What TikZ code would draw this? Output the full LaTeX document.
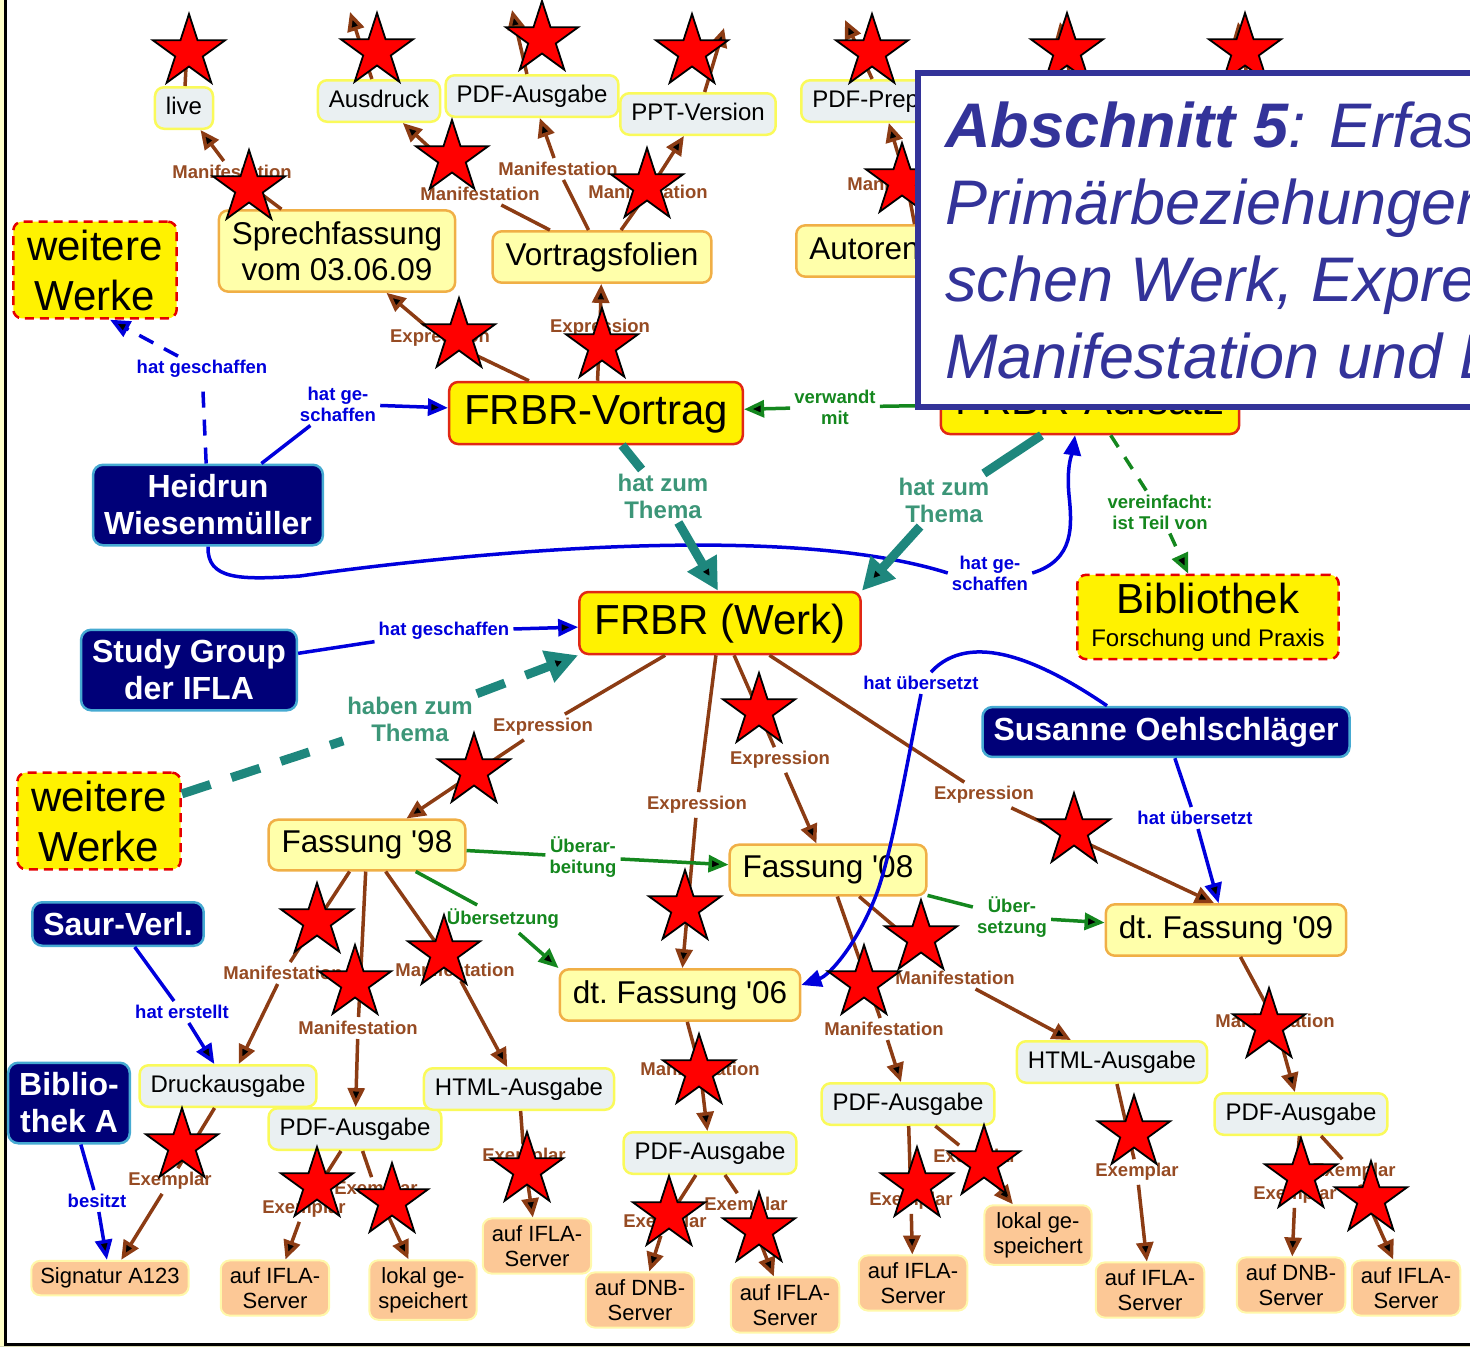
\documentclass[tikz,border=0pt]{standalone}
\usepackage{fontspec}
\setmainfont{Liberation Sans}
\setsansfont{Liberation Sans}
\usetikzlibrary{arrows.meta,shapes.geometric}
\definecolor{werkrand}{RGB}{225,40,20}
\definecolor{fassungfill}{RGB}{255,255,170}
\definecolor{fassungrand}{RGB}{240,175,70}
\definecolor{ausgabefill}{RGB}{234,240,242}
\definecolor{ausgaberand}{RGB}{250,250,90}
\definecolor{exemplarfill}{RGB}{252,200,150}
\definecolor{exemplarrand}{RGB}{255,248,170}
\definecolor{personfill}{RGB}{0,0,120}
\definecolor{personrand}{RGB}{70,170,210}
\definecolor{braun}{RGB}{140,60,20}
\definecolor{braunlab}{RGB}{150,75,35}
\definecolor{blau}{RGB}{0,0,220}
\definecolor{tuerkis}{RGB}{30,135,125}
\definecolor{tuerkislab}{RGB}{60,150,120}
\definecolor{gruen}{RGB}{20,135,30}
\definecolor{titelblau}{RGB}{51,51,153}
\definecolor{randgelb}{RGB}{255,255,200}
\newcommand{\apos}{\textquotesingle}

\begin{document}
\begin{tikzpicture}[x=1pt,y=-1pt,
	werk/.style={draw=werkrand,fill=yellow,line width=2.5pt,rounded corners=9pt,inner xsep=15pt,inner ysep=11pt,text height=31pt,text depth=9pt,font=\fontsize{42}{50}\selectfont},
	fassung/.style={draw=fassungrand,fill=fassungfill,line width=2.5pt,rounded corners=9pt,inner xsep=13pt,inner ysep=11pt,align=center,font=\fontsize{31.5}{36}\selectfont},
	ausgabe/.style={draw=ausgaberand,fill=ausgabefill,line width=2.5pt,rounded corners=9pt,inner xsep=11pt,inner ysep=9pt,text height=18pt,text depth=5.5pt,font=\fontsize{24}{28}\selectfont},
	exemplar/.style={draw=exemplarrand,fill=exemplarfill,line width=2pt,rounded corners=9pt,inner xsep=9pt,inner ysep=7pt,align=center,font=\fontsize{22}{25}\selectfont},
	person/.style={draw=personrand,fill=personfill,text=white,line width=2.5pt,rounded corners=10pt,inner xsep=11pt,inner ysep=10pt,align=center,font=\bfseries\fontsize{32}{37}\selectfont},
	andere/.style={draw=red!90!black,fill=yellow,line width=2.5pt,dash pattern=on 9pt off 6pt,rounded corners=9pt,inner xsep=14pt,inner ysep=8pt,align=center,font=\fontsize{42}{50}\selectfont},
	rel/.style={font=\bfseries\fontsize{18.5}{21}\selectfont,align=center,inner sep=4pt},
	manif/.style={rel,text=braunlab},
	blaulab/.style={rel,text=blau},
	gruenlab/.style={rel,text=gruen},
	themalab/.style={rel,text=tuerkislab,font=\bfseries\fontsize{24}{27}\selectfont},
	braun/.style={draw=braun,line width=3.5pt,-{Triangle[length=19pt,width=17pt]}},
	blau/.style={draw=blau,line width=3.5pt,-{Triangle[length=20pt,width=17pt]}},
	gruen/.style={draw=gruen,line width=3.5pt,-{Triangle[length=20pt,width=17pt]}},
	thema/.style={draw=tuerkis,line width=9pt,-{Triangle[length=32pt,width=32pt]}},
	stern/.style={star,star points=5,star point ratio=2.618,minimum size=76pt,inner sep=0pt,fill=red,draw=black,line width=1.8pt}]
	\useasboundingbox (0,0) rectangle (1470,1347);
	\clip (0,0) rectangle (1470,1347);
	\fill[randgelb] (0,0) rectangle (3.5,1347);
	\fill[randgelb!70!gray] (0,1345.5) rectangle (1470,1347);
	\draw[line width=3pt] (5,0) -- (5,1344) -- (1470,1344);

	\node[ausgabe] (live) at (184,108) {live};
	\node[ausgabe] (ausdruck) at (379,101) {Ausdruck};
	\node[ausgabe] (pdfa) at (532,96) {PDF-Ausgabe};
	\node[ausgabe] (ppt) at (698,114) {PPT-Version};
	\node[ausgabe,anchor=west] (pdfprep) at (800,101) {PDF-Preprint};
	\node[fassung] (sprech) at (337,251) {Sprechfassung\\vom 03.06.09};
	\node[fassung] (folien) at (602,257) {Vortragsfolien};
	\node[fassung,anchor=west] (autoren) at (795,251) {Autorenfassung};
	\node[werk] (vortrag) at (596,413) {FRBR-Vortrag};
	\node[werk] (aufsatz) at (1090,403) {FRBR-Aufsatz};
	\node[andere] (weitere1) at (95,270) {weitere\\Werke};
	\node[person] (heidrun) at (208,505) {Heidrun\\Wiesenmüller};
	\node[werk] (werk) at (720,623) {FRBR (Werk)};
	\node[andere] (bibl) at (1208,617) {Bibliothek\\[-17pt]{\fontsize{24}{28}\selectfont Forschung und Praxis}};
	\node[person] (study) at (189,670) {Study Group\\der IFLA};
	\node[person] (susanne) at (1166,732) {Susanne Oehlschläger};
	\node[andere] (weitere2) at (99,821) {weitere\\Werke};
	\node[fassung] (f98) at (367,845) {Fassung \apos98};
	\node[fassung] (f08) at (828,870) {Fassung \apos08};
	\node[fassung] (f06) at (680,995) {dt.\ Fassung \apos06};
	\node[fassung] (f09) at (1226,930) {dt.\ Fassung \apos09};
	\node[person] (saur) at (118,924) {Saur-Verl.};
	\node[person] (biba) at (69,1103) {Biblio-\\thek A};
	\node[ausgabe] (druck) at (228,1086) {Druckausgabe};
	\node[ausgabe] (pdf98) at (355,1129) {PDF-Ausgabe};
	\node[ausgabe] (html98) at (519,1089) {HTML-Ausgabe};
	\node[ausgabe] (pdf06) at (710,1153) {PDF-Ausgabe};
	\node[ausgabe] (pdf08) at (908,1104) {PDF-Ausgabe};
	\node[ausgabe] (html08) at (1112,1062) {HTML-Ausgabe};
	\node[ausgabe] (pdf09) at (1301,1114) {PDF-Ausgabe};
	\node[exemplar] (sig) at (110,1278) {Signatur A123};
	\node[exemplar] (ifla1) at (275,1288) {auf IFLA-\\Server};
	\node[exemplar] (lokal1) at (423,1290) {lokal ge-\\speichert};
	\node[exemplar] (ifla2) at (537,1246) {auf IFLA-\\Server};
	\node[exemplar] (dnb1) at (640,1300) {auf DNB-\\Server};
	\node[exemplar] (ifla3) at (785,1305) {auf IFLA-\\Server};
	\node[exemplar] (ifla4) at (913,1283) {auf IFLA-\\Server};
	\node[exemplar] (lokal2) at (1038,1235) {lokal ge-\\speichert};
	\node[exemplar] (ifla5) at (1150,1290) {auf IFLA-\\Server};
	\node[exemplar] (dnb2) at (1291,1285) {auf DNB-\\Server};
	\node[exemplar] (ifla6) at (1406,1288) {auf IFLA-\\Server};

	\node[manif] (m1) at (232,172) {Manifestation};
	\node[manif] (m2) at (480,194) {Manifestation};
	\node[manif] (m3) at (558,169) {Manifestation};
	\node[manif] (m4) at (648,192) {Manifestation};
	\node[manif] (m5) at (907,184) {Manifestation};
	\node[manif] (e1) at (440,338) {Expression};
	\node[manif] (e2) at (600,328) {Expression};
	\node[manif] (e3) at (543,727) {Expression};
	\node[manif] (e4) at (697,805) {Expression};
	\node[manif] (e5) at (780,760) {Expression};
	\node[manif] (e6) at (984,795) {Expression};
	\node[manif] (m6) at (283,973) {Manifestation};
	\node[manif] (m7) at (358,1028) {Manifestation};
	\node[manif] (m8) at (455,970) {Manifestation};
	\node[manif] (m9) at (700,1069) {Manifestation};
	\node[manif] (m10) at (884,1029) {Manifestation};
	\node[manif] (m11) at (955,978) {Manifestation};
	\node[manif] (m12) at (1275,1021) {Manifestation};
	\node[manif] (x1) at (170,1181) {Exemplar};
	\node[manif] (x2) at (304,1209) {Exemplar};
	\node[manif] (x3) at (376,1190) {Exemplar};
	\node[manif] (x4) at (524,1157) {Exemplar};
	\node[manif] (x5) at (665,1223) {Exemplar};
	\node[manif] (x6) at (746,1206) {Exemplar};
	\node[manif] (x7) at (911,1201) {Exemplar};
	\node[manif] (x8) at (975,1158) {Exemplar};
	\node[manif] (x9) at (1137,1172) {Exemplar};
	\node[manif] (x10) at (1295,1195) {Exemplar};
	\node[manif] (x11) at (1354,1172) {Exemplar};
	\node[blaulab] (hg1) at (202,369) {hat geschaffen};
	\node[blaulab] (hg2) at (338,404) {hat ge-\\schaffen};
	\node[blaulab] (hg3) at (990,573) {hat ge-\\schaffen};
	\node[blaulab] (hg4) at (444,631) {hat geschaffen};
	\node[blaulab] (hue1) at (921,683) {hat übersetzt};
	\node[blaulab] (hue2) at (1195,818) {hat übersetzt};
	\node[blaulab] (he) at (182,1012) {hat erstellt};
	\node[blaulab] (bes) at (97,1201) {besitzt};
	\node[gruenlab] (vm) at (835,407) {verwandt\\mit};
	\node[gruenlab] (vt) at (1160,512) {vereinfacht:\\ist Teil von};
	\node[gruenlab] (ue1) at (583,857) {Überar-\\beitung};
	\node[gruenlab] (ue2) at (503,919) {Übersetzung};
	\node[gruenlab] (ue3) at (1012,917) {Über-\\setzung};
	\node[themalab] (hzt1) at (663,496) {hat zum\\Thema};
	\node[themalab] (hzt2) at (944,500) {hat zum\\Thema};
	\node[themalab] (hzt3) at (410,719) {haben zum\\Thema};

	\coordinate (o1) at (188,25);
	\coordinate (o2) at (350,12);
	\coordinate (o3) at (512,10);
	\coordinate (o4) at (724,28);
	\coordinate (o5) at (845,20);
	\coordinate (o6a) at (1070,76);
	\coordinate (o6) at (1060,22);
	\coordinate (o7a) at (1247,76);
	\coordinate (o7) at (1238,22);

	\path[braun]
		(live) edge (o1) (ausdruck) edge (o2) (pdfa) edge (o3) (ppt) edge (o4) (pdfprep) edge (o5)
		(o6a) edge (o6) (o7a) edge (o7)
		(sprech) edge[-] (m1) (m1) edge (live)
		(folien) edge[-] (m2) (m2) edge (ausdruck)
		(folien) edge[-] (m3) (m3) edge (pdfa)
		(folien) edge[-] (m4) (m4) edge (ppt)
		(autoren) edge[-] (m5) (m5) edge (pdfprep)
		(vortrag) edge[-] (e1) (e1) edge (sprech)
		(vortrag) edge[-] (e2) (e2) edge (folien)
		(werk) edge[-] (e3) (e3) edge (f98)
		(werk) edge[-] (e4) (e4) edge (f06)
		(werk) edge[-] (e5) (e5) edge (f08)
		(werk) edge[-] (e6) (e6) edge ([xshift=-12pt]f09.north)
		(f98) edge[-] (m6) (m6) edge (druck)
		(f98) edge[-] (m7) (m7) edge (pdf98)
		(f98) edge[-] (m8) (m8) edge (html98)
		(f06) edge[-] (m9) (m9) edge (pdf06)
		(f08) edge[-] (m10) (m10) edge (pdf08)
		(f08) edge[-] (m11) (m11) edge (html08)
		(f09) edge[-] (m12) (m12) edge (pdf09)
		(druck) edge[-] (x1) (x1) edge (sig)
		(pdf98) edge[-] (x2) (x2) edge (ifla1)
		(pdf98) edge[-] (x3) (x3) edge (lokal1)
		(html98) edge[-] (x4) (x4) edge (ifla2)
		(pdf06) edge[-] (x5) (x5) edge (dnb1)
		(pdf06) edge[-] (x6) (x6) edge (ifla3)
		(pdf08) edge[-] (x7) (x7) edge (ifla4)
		(pdf08) edge[-] (x8) (x8) edge (lokal2)
		(html08) edge[-] (x9) (x9) edge (ifla5)
		(pdf09) edge[-] (x10) (x10) edge (dnb2)
		(pdf09) edge[-] (x11) (x11) edge (ifla6);

	\path[blau]
		(heidrun) edge[-,dash pattern=on 16pt off 12pt] (hg1) (hg1) edge[dash pattern=on 16pt off 12pt] ([xshift=15pt]weitere1.south)
		(heidrun) edge[-] (hg2) (hg2) edge (vortrag)
		(study) edge[-] (hg4) (hg4) edge (werk)
		(susanne) edge[-] (hue2) (hue2) edge (f09)
		(saur) edge[-] (he) (he) edge (druck)
		(biba) edge[-] (bes) (bes) edge (sig);
	\draw[blau,-] (heidrun.south) .. controls (207,580) and (240,580) .. (300,576) .. controls (450,555) and (780,520) .. (hg3.west);
	\draw[blau] (hg3.east) .. controls (1075,560) and (1072,525) .. (1069,495) .. controls (1066,465) and (1073,450) .. ([xshift=-15pt]aufsatz.south);
	\draw[blau,-] ([xshift=-59pt]susanne.north) .. controls (1040,660) and (970,630) .. ([xshift=10pt]hue1.north);
	\draw[blau] (hue1.south) .. controls (900,800) and (888,870) .. (872,905) .. controls (855,945) and (830,975) .. ([yshift=10pt]f06.east);

	\path[gruen]
		(aufsatz) edge[-] (vm) (vm) edge (vortrag)
		(aufsatz) edge[-,dash pattern=on 14pt off 12pt] (vt) (vt) edge[dash pattern=on 14pt off 12pt] (bibl)
		(f98) edge[-] (ue1) (ue1) edge (f08)
		(f98) edge[-] (ue2) (ue2) edge (f06.north west)
		(f08) edge[-] (ue3) (ue3) edge (f09);

	\path[thema]
		(vortrag) edge[-] (hzt1) (hzt1) edge ([xshift=-2pt]werk.north)
		(aufsatz) edge[-] (hzt2) (hzt2) edge (werk.north east)
		(weitere2) edge[-,dash pattern=on 30pt off 22pt] (hzt3) (hzt3) edge[dash pattern=on 30pt off 22pt] (werk.south west);

	\foreach \sx/\sy [count=\i] in {189/52,377/51,542/39,692/52,872/52,1067/51,1245/51,452/158,249/188,647/186,902/181,459/336,602/346,759/711,474/771,1074/831,317/921,685/908,921/938,444/953,355/983,864/983,699/1072,1269/1026,1134/1133,182/1146,984/1163,527/1170,317/1185,917/1185,392/1201,1301/1176,669/1214,759/1230,1371/1199}
		\node[stern] (s\i) at (\sx,\sy) {};

	\draw[titelblau,fill=white,line width=6pt] (918,73) rectangle (1500,407);
	\node[anchor=north west,inner sep=0pt,align=left,text=titelblau,font=\itshape\fontsize{63}{77}\selectfont] (titel) at (945,102) {\textbf{Abschnitt 5}: Erfassung der\\Primärbeziehungen zwi-\\schen Werk, Expression,\\Manifestation und Exemplar};
\end{tikzpicture}
\end{document}
